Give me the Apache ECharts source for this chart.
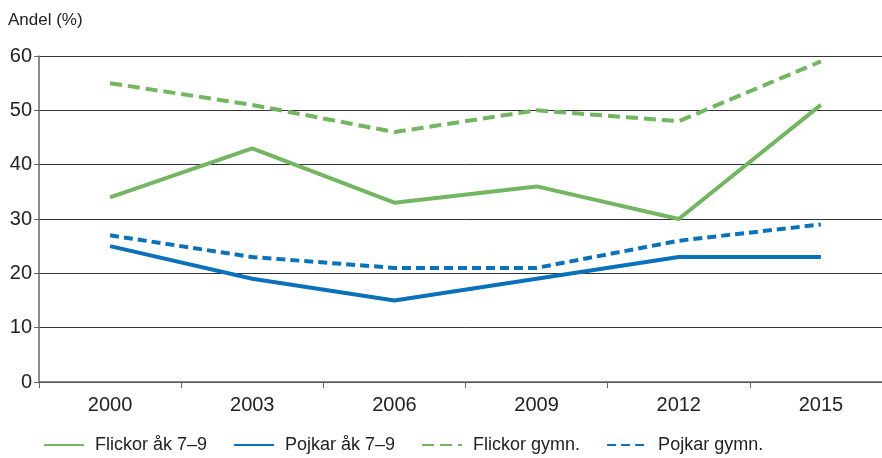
<!DOCTYPE html>
<html>
<head>
<meta charset="utf-8">
<script src="https://cdn.jsdelivr.net/npm/echarts@6/dist/echarts.min.js"></script>
<style>
  html, body { margin: 0; padding: 0; background: #fff; overflow: hidden; }
  /* the plot runs a little past the right edge of the picture */
  #chart { width: 892px; height: 458px; }
</style>
</head>
<body>
<div id="chart"></div>
<script>
const years = ['2000', '2003', '2006', '2009', '2012', '2015']
const flickorAk = [34, 43, 33, 36, 30, 51]
const pojkarAk = [25, 19, 15, 19, 23, 23]
const flickorGymn = [55, 51, 46, 50, 48, 59]
const pojkarGymn = [27, 23, 21, 21, 26, 29]

const GREEN = '#74b561'
const BLUE = '#0b72b9'
const FONT = '"Liberation Sans", Arial, sans-serif'

const chart = echarts.init(document.getElementById('chart'))

function lineSeries(name, data, color, dashed) {
  return {
    name,
    type: 'line',
    data,
    symbol: 'none',
    lineStyle: {
      color,
      width: 4,
      type: dashed || 'solid',
      cap: 'butt'
    },
    itemStyle: { color }
  }
}

chart.setOption({
  animation: false,
  textStyle: { fontFamily: FONT },
  title: {
    text: 'Andel (%)',
    left: 3,
    top: 7,
    textStyle: { fontFamily: FONT, fontSize: 17, fontWeight: 'normal', color: '#222' }
  },
  grid: { left: 39, right: 0, top: 56, bottom: 76 },
  legend: {
    bottom: -1,
    left: 38,
    itemWidth: 40,
    itemHeight: 14,
    itemGap: 26,
    itemStyle: { opacity: 0 },
    textStyle: { fontFamily: FONT, fontSize: 18, color: '#222', padding: [0, 0, 0, 6] },
    data: ['Flickor åk 7–9', 'Pojkar åk 7–9', 'Flickor gymn.', 'Pojkar gymn.']
  },
  xAxis: {
    type: 'category',
    data: years,
    boundaryGap: true,
    axisLine: { lineStyle: { color: '#666', width: 1.5 } },
    axisTick: { show: true, length: 6, lineStyle: { color: '#666' } },
    axisLabel: { fontFamily: FONT, fontSize: 20, color: '#222', margin: 13 }
  },
  yAxis: {
    type: 'value',
    min: 0,
    max: 60,
    interval: 10,
    axisLine: { show: true, lineStyle: { color: '#666', width: 1.5 } },
    axisTick: { show: true, length: 5, lineStyle: { color: '#666' } },
    axisLabel: { fontFamily: FONT, fontSize: 20, color: '#222', margin: 7 },
    splitLine: { lineStyle: { color: '#333', width: 1 } }
  },
  series: [
    lineSeries('Flickor åk 7–9', flickorAk, GREEN),
    lineSeries('Pojkar åk 7–9', pojkarAk, BLUE),
    lineSeries('Flickor gymn.', flickorGymn, GREEN, [12, 6]),
    lineSeries('Pojkar gymn.', pojkarGymn, BLUE, [9, 5])
  ]
})
</script>
</body>
</html>
